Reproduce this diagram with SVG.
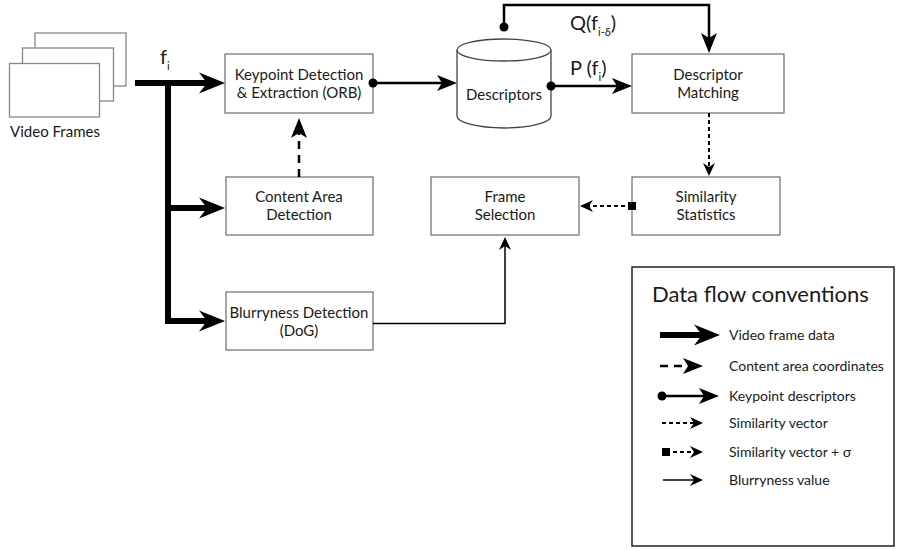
<svg xmlns="http://www.w3.org/2000/svg" width="897" height="549" viewBox="0 0 897 549">
<style>
  text { font-family: Lato, "Liberation Sans", sans-serif; fill: #1a1a1a; }
  .lbl { font-size: 15px; text-anchor: middle; }
  .leg { font-size: 14px; }
  .box { fill: #fff; stroke: #777; stroke-width: 1.3; }
  .frame { fill: #fff; stroke: #888; stroke-width: 1.3; }
  .thick { fill: none; stroke: #000; stroke-width: 6; }
  .kp { fill: none; stroke: #000; stroke-width: 2.5; }
  .ca { fill: none; stroke: #000; stroke-width: 2.5; stroke-dasharray: 8 6; }
  .sv { fill: none; stroke: #000; stroke-width: 2; stroke-dasharray: 4 3; }
  .bl { fill: none; stroke: #000; stroke-width: 1.5; }
  .big { font-size: 20px; }
  .sub { font-size: 11px; }
</style>
<defs>
  <marker id="ahThick" viewBox="-12 -11 28 22" refX="0" refY="0" markerWidth="28" markerHeight="22" markerUnits="userSpaceOnUse" orient="auto">
    <path d="M15,0 L-11,-10.5 L-3,0 L-11,10.5 Z" fill="#000"/>
  </marker>
  <marker id="ahMid" viewBox="-11 -9 22 18" refX="0" refY="0" markerWidth="22" markerHeight="18" markerUnits="userSpaceOnUse" orient="auto">
    <path d="M10,0 L-10,-8 L-5,0 L-10,8 Z" fill="#000"/>
  </marker>
  <marker id="ahSmall" viewBox="-8 -7 16 14" refX="0" refY="0" markerWidth="16" markerHeight="14" markerUnits="userSpaceOnUse" orient="auto">
    <path d="M6,0 L-7,-6 L-3,0 L-7,6 Z" fill="#000"/>
  </marker>
  <marker id="dot" viewBox="-5 -5 10 10" refX="0" refY="0" markerWidth="10" markerHeight="10" markerUnits="userSpaceOnUse" orient="auto">
    <circle cx="0" cy="0" r="4.5" fill="#000"/>
  </marker>
  <marker id="sq" viewBox="-5 -5 10 10" refX="0" refY="0" markerWidth="10" markerHeight="10" markerUnits="userSpaceOnUse" orient="auto">
    <rect x="-4" y="-4" width="8" height="8" fill="#000"/>
  </marker>
</defs>

<g id="video-frames">
  <rect class="frame" x="35" y="33" width="91" height="53"/>
  <rect class="frame" x="22.5" y="48" width="91" height="53"/>
  <rect class="frame" x="9.5" y="63.5" width="90" height="53.5"/>
  <text x="55" y="137" style="font-size:15px;text-anchor:middle">Video Frames</text>
</g>

<g id="keypoint">
  <rect class="box" x="225" y="54" width="148" height="59"/>
  <text class="lbl" x="299" y="80">Keypoint Detection</text>
  <text class="lbl" x="299" y="98">&amp; Extraction (ORB)</text>
</g>

<g id="descriptors">
  <path d="M457,50 V116 A47,12 0 0 0 551,116 V50" fill="#fff" stroke="#444" stroke-width="1.3"/>
  <ellipse cx="504" cy="50" rx="47" ry="11" fill="#fff" stroke="#444" stroke-width="1.3"/>
  <text class="lbl" x="504" y="100">Descriptors</text>
</g>

<g id="descriptor-matching">
  <rect class="box" x="632" y="54" width="152" height="59"/>
  <text class="lbl" x="708" y="80">Descriptor</text>
  <text class="lbl" x="708" y="98">Matching</text>
</g>

<g id="content-area">
  <rect class="box" x="226" y="177" width="147" height="58"/>
  <text class="lbl" x="299" y="202">Content Area</text>
  <text class="lbl" x="299" y="220">Detection</text>
</g>

<g id="frame-selection">
  <rect class="box" x="431" y="177" width="148" height="58"/>
  <text class="lbl" x="505" y="202">Frame</text>
  <text class="lbl" x="505" y="220">Selection</text>
</g>

<g id="similarity-statistics">
  <rect class="box" x="632" y="177" width="148" height="58"/>
  <text class="lbl" x="706" y="202">Similarity</text>
  <text class="lbl" x="706" y="220">Statistics</text>
</g>

<g id="blurryness">
  <rect class="box" x="226" y="292" width="147" height="58"/>
  <text class="lbl" x="299" y="318">Blurryness Detection</text>
  <text class="lbl" x="299" y="336">(DoG)</text>
</g>

<g id="connectors">
  <!-- video frame data -->
  <path class="thick" d="M135,83 H210" marker-end="url(#ahThick)"/>
  <path class="thick" d="M168,80 V321"/>
  <path class="thick" d="M165,208 H210" marker-end="url(#ahThick)"/>
  <path class="thick" d="M165,321 H210" marker-end="url(#ahThick)"/>
  <text x="160" y="64" class="big">f<tspan class="sub" dy="6">i</tspan></text>
  <!-- content area -->
  <path class="ca" d="M299,177 V128" marker-end="url(#ahMid)"/>
  <!-- keypoint descriptors -->
  <path class="kp" d="M373,83 H447" marker-start="url(#dot)" marker-end="url(#ahMid)"/>
  <path class="kp" d="M551,86 H622" marker-start="url(#dot)" marker-end="url(#ahMid)"/>
  <path class="kp" d="M504,27 V5 H709 V43" marker-start="url(#dot)" marker-end="url(#ahMid)"/>
  <text x="570" y="30" class="big">Q(f<tspan class="sub" dy="6">i-δ</tspan><tspan dy="-6">)</tspan></text>
  <text x="570" y="75" class="big">P (f<tspan class="sub" dy="6">i</tspan><tspan dy="-6">)</tspan></text>
  <!-- similarity vector -->
  <path class="sv" d="M709,113 V170" marker-end="url(#ahSmall)"/>
  <!-- similarity vector + sigma -->
  <path class="sv" d="M632,206 H586" marker-start="url(#sq)" marker-end="url(#ahSmall)"/>
  <!-- blurryness -->
  <path class="bl" d="M373,323.5 H505 V243" marker-end="url(#ahSmall)"/>
</g>

<g id="legend">
  <rect x="632" y="267" width="262" height="279" fill="#fff" stroke="#222" stroke-width="1.5"/>
  <text x="652" y="302" style="font-size:22px">Data flow conventions</text>
  <path class="thick" d="M660,335 H705" marker-end="url(#ahThick)"/>
  <text class="leg" x="729" y="340">Video frame data</text>
  <path class="ca" d="M660,366 H693" marker-end="url(#ahMid)"/>
  <text class="leg" x="729" y="371">Content area coordinates</text>
  <path class="kp" d="M662,396 H709" marker-start="url(#dot)" marker-end="url(#ahMid)"/>
  <text class="leg" x="729" y="401">Keypoint descriptors</text>
  <path class="sv" d="M662,423 H697" marker-end="url(#ahSmall)"/>
  <text class="leg" x="729" y="428">Similarity vector</text>
  <path class="sv" d="M666,452 H697" marker-start="url(#sq)" marker-end="url(#ahSmall)"/>
  <text class="leg" x="729" y="457">Similarity vector + σ</text>
  <path class="bl" d="M663,480 H697" marker-end="url(#ahSmall)"/>
  <text class="leg" x="729" y="485">Blurryness value</text>
</g>
</svg>
